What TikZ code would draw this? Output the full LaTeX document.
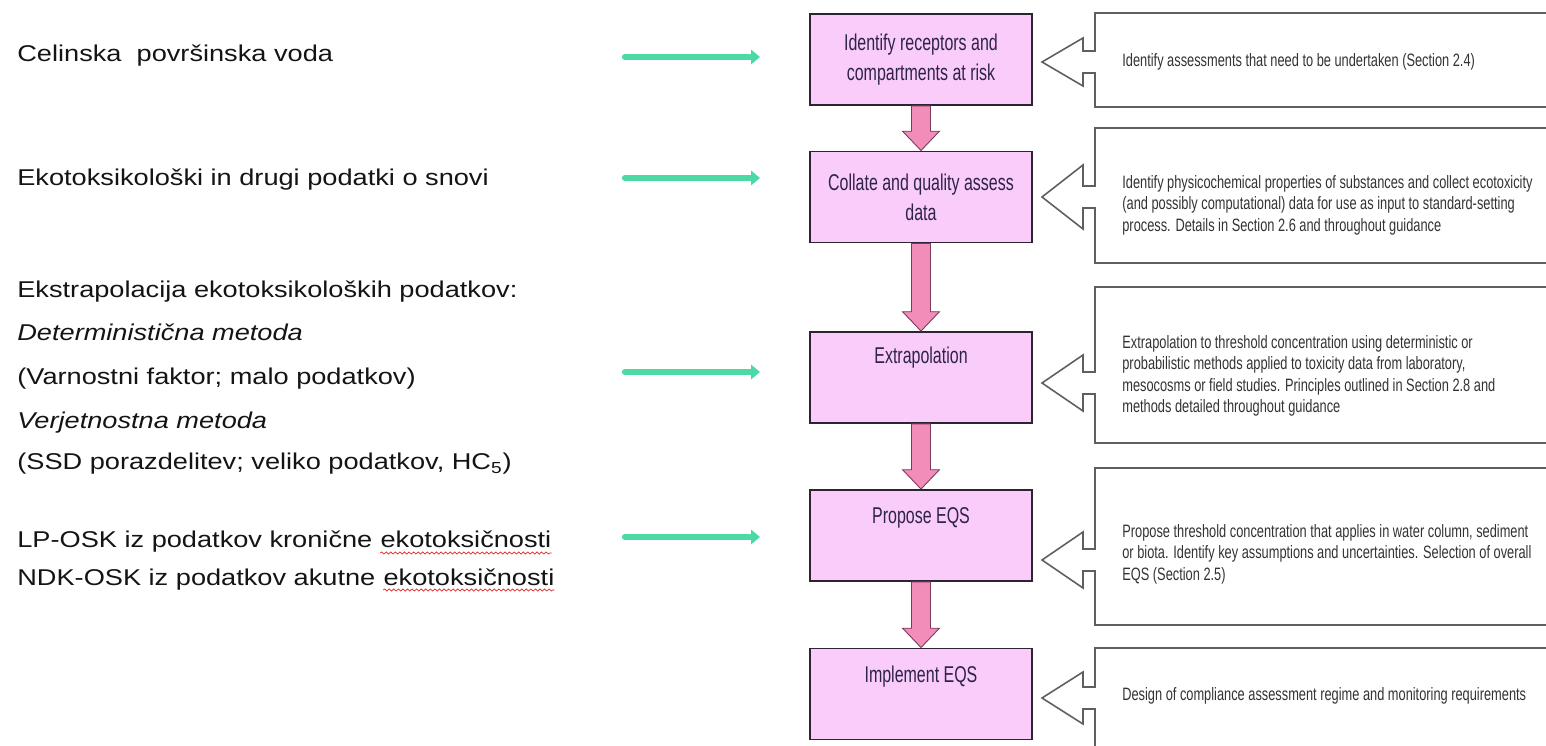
\documentclass[tikz,border=0pt]{standalone}
\usepackage{fontspec}
\setmainfont{Liberation Sans}
\newfontfamily\leftfont[FakeStretch=1.19]{Liberation Sans}
\newfontfamily\stepfont[FakeStretch=0.7]{Liberation Sans}
\newfontfamily\notefont[FakeStretch=0.715]{Liberation Sans}
\usetikzlibrary{arrows.meta,calc,positioning,decorations.pathmorphing}

\definecolor{steppink}{RGB}{250,204,250}
\definecolor{stepedge}{RGB}{45,35,50}
\definecolor{steptextc}{RGB}{45,35,75}
\definecolor{flowpink}{RGB}{242,140,185}
\definecolor{flowedge}{RGB}{120,60,90}
\definecolor{linkgreen}{RGB}{75,218,165}
\definecolor{notegray}{RGB}{95,95,95}
\definecolor{spellred}{RGB}{220,40,40}

\begin{document}
\begin{tikzpicture}[x=0.02cm, y=-0.02cm, >=Stealth,
    lefttext/.style={anchor=base west, inner sep=0pt, text=black!92,
      font=\leftfont\fontsize{13pt}{16pt}\selectfont},
    stepbox/.style={draw=stepedge, line width=1.1pt, fill=steppink,
      minimum width=4.44cm, minimum height=1.82cm, inner sep=0pt},
    steptext/.style={align=center, text=steptextc, inner sep=0pt,
      font=\stepfont\fontsize{13pt}{17pt}\selectfont},
    flowarrow/.style={draw=flowedge, line width=0.5pt, fill=flowpink},
    link/.style={draw=linkgreen, line width=3.6pt, line cap=round,
      -{Triangle[length=5pt,width=8pt]}},
    callout/.style={draw=notegray, line width=0.9pt, fill=white},
    notetext/.style={anchor=west, align=left, inner sep=0pt, text=black!80,
      font=\notefont\fontsize{10.2pt}{12.2pt}\selectfont},
    spell/.style={draw=spellred, line width=0.4pt, decorate,
      decoration={snake, amplitude=0.6pt, segment length=2.6pt}}]

  \useasboundingbox (0,0) rectangle (1546,746);
  \clip (0,0) rectangle (1546,746);

  % Left column: Slovenian notes
  \node[lefttext] (celinska) at (17,62) {Celinska~ površinska voda};
  \node[lefttext] (ekodata) at (17,186) {Ekotoksikološki in drugi podatki o snovi};
  \node[lefttext] (ekstrap) at (17,298) {Ekstrapolacija ekotoksikoloških podatkov:};
  \node[lefttext] (determ) at (17,341) {\itshape Deterministična metoda};
  \node[lefttext] (varn) at (17,385) {(Varnostni faktor; malo podatkov)};
  \node[lefttext] (verj) at (17,429) {\itshape Verjetnostna metoda};
  \node[lefttext] (ssd) at (17,470) {(SSD porazdelitev; veliko podatkov, HC\textsubscript{5})};
  \node[lefttext] (lpline) at (17,548) {LP-OSK iz podatkov kronične};
  \node[lefttext] (lpword) at ([xshift=0.15cm]lpline.base east) {ekotoksičnosti};
  \node[lefttext] (ndkline) at (17,585) {NDK-OSK iz podatkov akutne};
  \node[lefttext] (ndkword) at ([xshift=0.15cm]ndkline.base east) {ekotoksičnosti};
  \draw[spell] ([yshift=-0.1cm]lpword.base west) -- ([yshift=-0.1cm]lpword.base east);
  \draw[spell] ([yshift=-0.1cm]ndkword.base west) -- ([yshift=-0.1cm]ndkword.base east);

  % Green pointers
  \foreach \i/\y in {1/57,2/178,3/372,4/537} {
    \coordinate (g\i a) at (625,\y);
    \coordinate (g\i b) at (760,\y);
    \draw[link] (g\i a) -- (g\i b);
  }

  % Steps of the procedure
  \node[stepbox] (b1) at (921,59.5) {};
  \node[stepbox] (b2) at (921,197) {};
  \node[stepbox] (b3) at (921,377.5) {};
  \node[stepbox] (b4) at (921,535.5) {};
  \node[stepbox] (b5) at (921,694) {};
  \node[steptext] (t1) at (b1) {Identify receptors and\\compartments at risk};
  \node[steptext] (t2) at (b2) {Collate and quality assess\\data};
  \node[steptext] (t3) at (921,358) {Extrapolation};
  \node[steptext] (t4) at (921,518) {Propose EQS};
  \node[steptext] (t5) at (921,677) {Implement EQS};

  \foreach \a/\b in {b1/b2,b2/b3,b3/b4,b4/b5}
    \draw[flowarrow] let \p1=(\a.south), \p2=(\b.north) in
      (\x1-5.4pt,\y1) -- (\x1-5.4pt,\y2+11pt) -- (\x1-10.5pt,\y2+11pt)
      -- (\x1,\y2) -- (\x1+10.5pt,\y2+11pt) -- (\x1+5.4pt,\y2+11pt)
      -- (\x1+5.4pt,\y1) -- cycle;

  % Callouts on the right
  \foreach \top/\bot/\tip/\hd in {13/107/62/24,128/263/197/32,287/443/383/28,
                                  468/625/560/28,648/770/698/26}
    \draw[callout] (1570,\top) -- (1095,\top) -- (1095,\tip-11) -- (1083,\tip-11)
      -- (1083,\tip-\hd) -- (1042,\tip) -- (1083,\tip+\hd) -- (1083,\tip+11)
      -- (1095,\tip+11) -- (1095,\bot) -- (1570,\bot);

  \node[notetext] (n1) at (1122,62) {Identify assessments that need to be undertaken (Section 2.4)};
  \node[notetext] (n2) at (1122,205) {Identify physicochemical properties of substances and collect ecotoxicity\\
    (and possibly computational) data for use as input to standard-setting\\
    process. Details in Section 2.6 and throughout guidance};
  \node[notetext] (n3) at (1122,376) {Extrapolation to threshold concentration using deterministic or\\
    probabilistic methods applied to toxicity data from laboratory,\\
    mesocosms or field studies. Principles outlined in Section 2.8 and\\
    methods detailed throughout guidance};
  \node[notetext] (n4) at (1122,554) {Propose threshold concentration that applies in water column, sediment\\
    or biota. Identify key assumptions and uncertainties. Selection of overall\\
    EQS (Section 2.5)};
  \node[notetext] (n5) at (1122,696) {Design of compliance assessment regime and monitoring requirements};
\end{tikzpicture}
\end{document}
